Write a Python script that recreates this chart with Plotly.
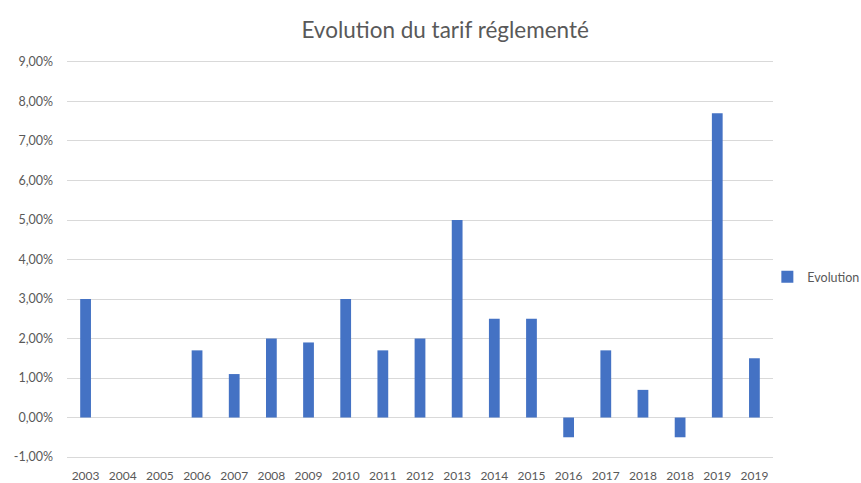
import plotly.graph_objects as go

years = ["2003", "2004", "2005", "2006", "2007", "2008", "2009", "2010", "2011", "2012",
         "2013", "2014", "2015", "2016", "2017", "2018", "2018", "2019", "2019"]
evolution = [0.030, 0.0, 0.0, 0.017, 0.011, 0.020, 0.019, 0.030, 0.017, 0.020,
             0.050, 0.025, 0.025, -0.005, 0.017, 0.007, -0.005, 0.077, 0.015]
y_ticks = [-0.01, 0.0, 0.01, 0.02, 0.03, 0.04, 0.05, 0.06, 0.07, 0.08, 0.09]
y_labels = ["-1,00%", "0,00%", "1,00%", "2,00%", "3,00%", "4,00%", "5,00%",
            "6,00%", "7,00%", "8,00%", "9,00%"]

positions = list(range(len(years)))
GREY = "#595959"
FONT = "Lato"

fig = go.Figure()
fig.add_trace(go.Bar(
    x=positions, y=evolution, name="Evolution",
    marker=dict(color="#4472C4", line=dict(width=0)),
    width=0.29, showlegend=True,
))

fig.update_layout(
    width=861, height=483,
    margin=dict(l=67, r=88, t=60, b=24, autoexpand=False),
    paper_bgcolor="white", plot_bgcolor="white",
    font=dict(family=FONT, color=GREY, size=12),
    title=dict(text="Evolution du tarif réglementé", x=0.517, xanchor="center",
               y=1 - 30 / 483, yanchor="middle", yref="container",
               font=dict(family=FONT, size=22.5, color=GREY)),
    showlegend=True,
    legend=dict(x=0.992, xanchor="left", y=0.456, yanchor="middle",
                xref="paper", font=dict(family=FONT, size=12.5, color=GREY),
                bgcolor="rgba(0,0,0,0)"),
)
fig.update_xaxes(
    tickmode="array", tickvals=positions, ticktext=years,
    range=[-0.5, len(years) - 0.5],
    showgrid=False, zeroline=False, showline=False,
    ticks="", ticklabelstandoff=8,
    tickfont=dict(family=FONT, size=12, color=GREY),
)
fig.update_yaxes(
    range=[-0.0105, 0.0905],
    tickmode="array", tickvals=y_ticks, ticktext=y_labels,
    showgrid=True, gridcolor="#D9D9D9", gridwidth=1,
    zeroline=True, zerolinecolor="#D9D9D9", zerolinewidth=1,
    showline=False, ticks="", ticklabelstandoff=13,
    tickfont=dict(family=FONT, size=12.5, color=GREY),
)

fig.write_html("out.html")
